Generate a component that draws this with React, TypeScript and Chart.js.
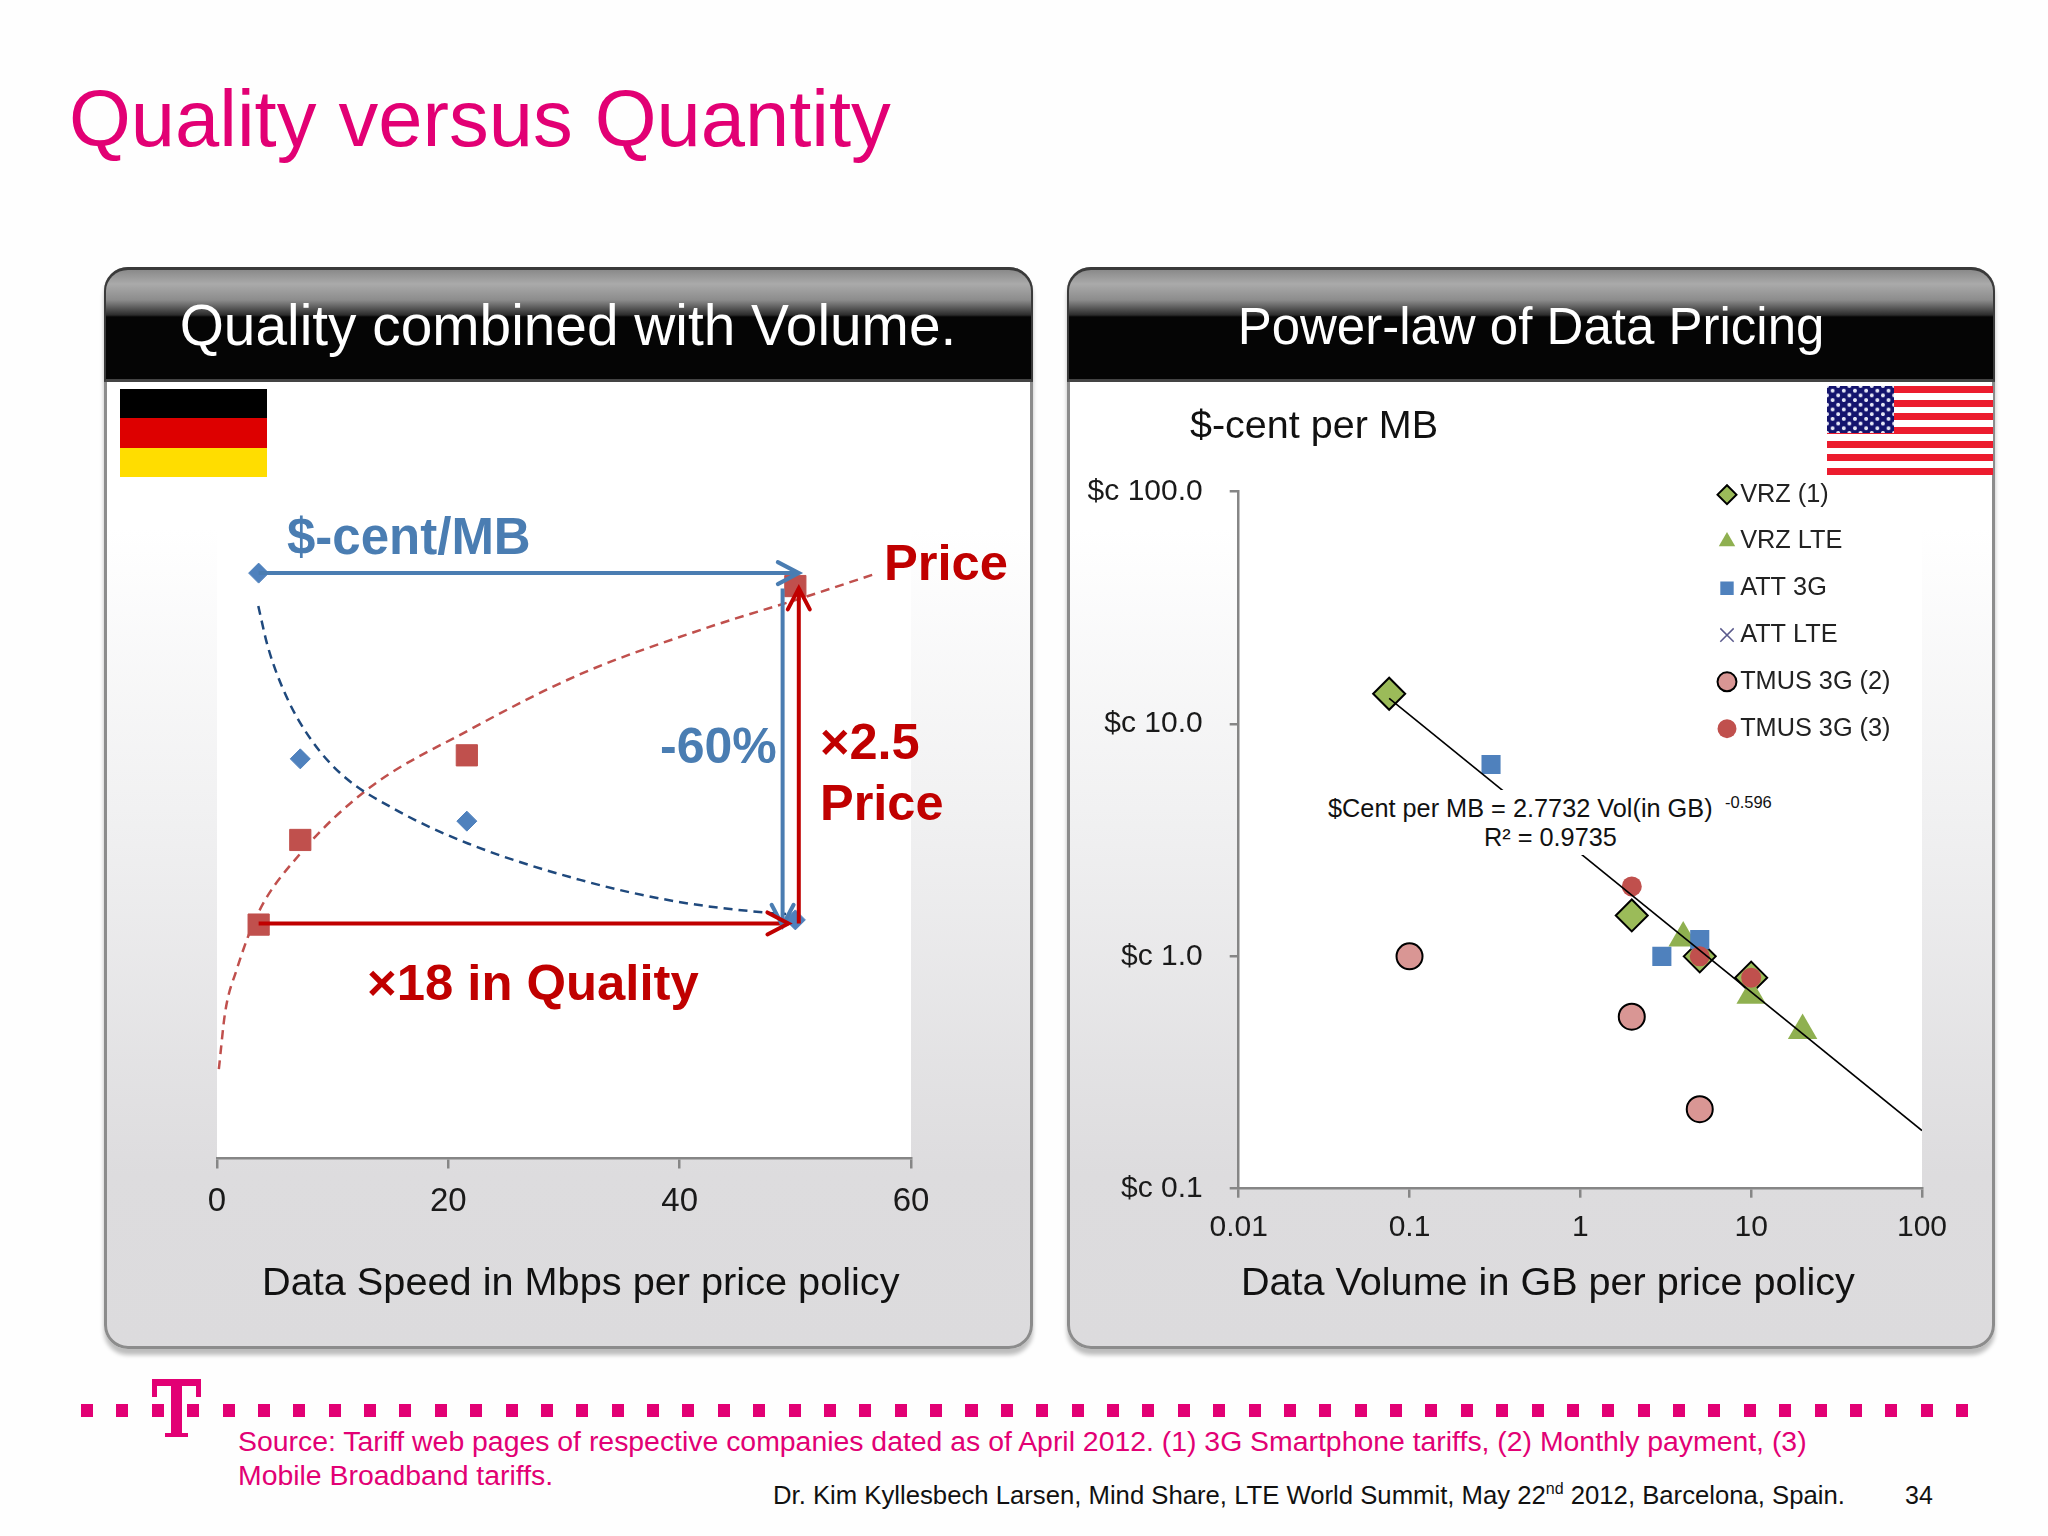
import React, { useEffect, useRef } from "react";
import { Chart, registerables } from "chart.js";

Chart.register(...registerables);

const FONT = '"Liberation Sans", Arial, sans-serif';
const PINK = "#E20074";
const BLUE = "#4A7DB2";
const RED = "#C00000";

// ---- left chart: data speed (Mbps) vs. value
const speedTicks = [0, 20, 40, 60];
const centPerMb = [
  { x: 3.6, y: 4.98 },
  { x: 7.2, y: 3.4 },
  { x: 21.6, y: 2.87 },
  { x: 50, y: 2.03 },
];
const pricePoints = [
  { x: 3.6, y: 1.99 },
  { x: 7.2, y: 2.71 },
  { x: 21.6, y: 3.43 },
  { x: 50, y: 4.87 },
];
const centTrend = [
  { x: 3.57, y: 4.7 },
  { x: 4.38, y: 4.36 },
  { x: 6.0, y: 3.93 },
  { x: 8.16, y: 3.56 },
  { x: 10.86, y: 3.26 },
  { x: 15.2, y: 2.98 },
  { x: 21.7, y: 2.68 },
  { x: 31.4, y: 2.37 },
  { x: 39.5, y: 2.19 },
  { x: 47.6, y: 2.09 },
  { x: 49.2, y: 2.08 },
];
const priceTrend = [
  { x: 0.16, y: 0.76 },
  { x: 0.7, y: 1.24 },
  { x: 1.68, y: 1.6 },
  { x: 3.57, y: 2.09 },
  { x: 7.08, y: 2.58 },
  { x: 13.0, y: 3.14 },
  { x: 21.7, y: 3.64 },
  { x: 31.4, y: 4.12 },
  { x: 42.2, y: 4.51 },
  { x: 50.3, y: 4.76 },
  { x: 56.8, y: 4.97 },
];
const arrowBlueTop = [{ x: 3.6, y: 4.98 }, { x: 50.3, y: 4.98 }];
const arrowBlueDown = [{ x: 48.9, y: 4.85 }, { x: 48.9, y: 1.98 }];
const arrowRedBottom = [{ x: 3.6, y: 2.0 }, { x: 49.4, y: 2.0 }];
const arrowRedUp = [{ x: 50.3, y: 2.0 }, { x: 50.3, y: 4.85 }];

// ---- right chart: data volume (GB) vs. $-cent per MB
const volumeTicks = [0.01, 0.1, 1, 10, 100];
const centTicks = [0.1, 1, 10, 100];
const vrz1 = [
  { x: 0.076, y: 13.5 },
  { x: 2, y: 1.5 },
  { x: 5, y: 1.0 },
  { x: 10, y: 0.81 },
];
const vrzLte = [
  { x: 4, y: 1.2 },
  { x: 10, y: 0.68 },
  { x: 20, y: 0.48 },
];
const att3g = [
  { x: 0.3, y: 6.7 },
  { x: 3, y: 1.0 },
  { x: 5, y: 1.18 },
];
const attLte: { x: number; y: number }[] = [];
const tmus2 = [
  { x: 0.1, y: 1.0 },
  { x: 2, y: 0.55 },
  { x: 5, y: 0.22 },
];
const tmus3 = [
  { x: 2, y: 2.0 },
  { x: 5, y: 1.0 },
  { x: 10, y: 0.81 },
];
const fitLine = [
  { x: 0.076, y: 12.9 },
  { x: 100, y: 0.178 },
];

const plotWhite = {
  id: "plotWhite",
  beforeDraw(chart: any) {
    const a = chart.chartArea;
    chart.ctx.save();
    chart.ctx.fillStyle = "#ffffff";
    chart.ctx.fillRect(a.left, a.top, a.right - a.left, a.bottom - a.top);
    chart.ctx.restore();
  },
};

const arrowHeads = {
  id: "arrowHeads",
  afterDatasetsDraw(chart: any) {
    const ctx = chart.ctx;
    chart.data.datasets.forEach((ds: any, i: number) => {
      if (!ds.isArrow) return;
      const pts = chart.getDatasetMeta(i).data;
      const a = pts[pts.length - 2];
      const b = pts[pts.length - 1];
      const ang = Math.atan2(b.y - a.y, b.x - a.x);
      ctx.save();
      ctx.strokeStyle = ds.borderColor;
      ctx.lineWidth = ds.borderWidth;
      ctx.lineCap = "round";
      ctx.translate(b.x, b.y);
      ctx.rotate(ang);
      ctx.beginPath();
      ctx.moveTo(-21, -11);
      ctx.lineTo(0, 0);
      ctx.lineTo(-21, 11);
      ctx.stroke();
      ctx.restore();
    });
  },
};

const placeLegend = {
  id: "placeLegend",
  afterLayout(chart: any) {
    const l = chart.legend;
    if (!l) return;
    const w = l.width;
    const h = l.height;
    l.left = 1705 - 1067;
    l.top = 460.5 - 380;
    l.right = l.left + w;
    l.bottom = l.top + h;
  },
};

function arrow(data: any[], color: string) {
  return {
    label: "arrow",
    data,
    isArrow: true,
    showLine: true,
    borderColor: color,
    backgroundColor: color,
    borderWidth: 4,
    pointRadius: 0,
    order: 0,
  };
}

function trend(data: any[], color: string) {
  return {
    label: "trend",
    data,
    showLine: true,
    borderColor: color,
    backgroundColor: color,
    borderWidth: 2.5,
    borderDash: [9, 6],
    cubicInterpolationMode: "monotone",
    pointRadius: 0,
    order: 3,
  };
}

function axisCommon(tickLength: number) {
  return {
    border: { color: "#868686", width: 2.5 },
    grid: { drawOnChartArea: false, color: "#868686", lineWidth: 2.5, tickLength },
  };
}

function LeftChart() {
  const ref = useRef<HTMLCanvasElement>(null);
  useEffect(() => {
    const chart = new Chart(ref.current!, {
      type: "scatter",
      data: {
        datasets: [
          arrow(arrowBlueTop, BLUE),
          arrow(arrowBlueDown, BLUE),
          arrow(arrowRedBottom, RED),
          arrow(arrowRedUp, RED),
          trend(centTrend, "#1F497D"),
          trend(priceTrend, "#C0504D"),
          {
            label: "$-cent/MB",
            data: centPerMb,
            pointStyle: "rectRot",
            pointRadius: 10,
            backgroundColor: "#4F81BD",
            borderColor: "#4F81BD",
            order: 2,
          },
          {
            label: "Price",
            data: pricePoints,
            pointStyle: "rect",
            pointRadius: 15,
            backgroundColor: "#C0504D",
            borderColor: "#C0504D",
            order: 2,
          },
        ] as any,
      },
      options: {
        animation: false,
        responsive: false,
        layout: { padding: { left: 112, top: 132, right: 119, bottom: 0 } },
        plugins: { legend: { display: false }, tooltip: { enabled: false } },
        scales: {
          x: {
            type: "linear",
            min: 0,
            max: 60,
            ...axisCommon(10),
            afterBuildTicks: (s: any) => {
              s.ticks = speedTicks.map((value) => ({ value }));
            },
            afterFit: (s: any) => {
              s.height = 101.5;
            },
            ticks: { color: "#1a1a1a", font: { size: 33, family: FONT }, padding: 14, maxRotation: 0 },
          },
          y: { type: "linear", display: false, min: 0, max: 5.5 },
        },
      } as any,
      plugins: [plotWhite, arrowHeads],
    });
    return () => chart.destroy();
  }, []);
  return (
    <canvas
      ref={ref}
      width={925}
      height={880}
      style={{ position: "absolute", left: 105, top: 380, width: 925, height: 880 }}
    />
  );
}

function RightChart() {
  const ref = useRef<HTMLCanvasElement>(null);
  useEffect(() => {
    const chart = new Chart(ref.current!, {
      type: "scatter",
      data: {
        datasets: [
          {
            label: "VRZ (1)",
            data: vrz1,
            pointStyle: "rectRot",
            pointRadius: 16,
            backgroundColor: "#9BBB59",
            borderColor: "#000000",
            borderWidth: 2,
            order: 5,
          },
          {
            label: "VRZ LTE",
            data: vrzLte,
            pointStyle: "triangle",
            pointRadius: 17,
            backgroundColor: "#8FB050",
            borderColor: "#8FB050",
            borderWidth: 0,
            order: 4,
          },
          {
            label: "ATT 3G",
            data: att3g,
            pointStyle: "rect",
            pointRadius: 13.5,
            backgroundColor: "#4F81BD",
            borderColor: "#4F81BD",
            borderWidth: 0,
            order: 3,
          },
          {
            label: "ATT LTE",
            data: attLte,
            pointStyle: "crossRot",
            pointRadius: 9,
            backgroundColor: "#8064A2",
            borderColor: "#5A5A8C",
            borderWidth: 1.5,
            order: 3,
          },
          {
            label: "TMUS 3G (2)",
            data: tmus2,
            pointStyle: "circle",
            pointRadius: 13,
            backgroundColor: "#D99694",
            borderColor: "#000000",
            borderWidth: 2,
            order: 3,
          },
          {
            label: "TMUS 3G (3)",
            data: tmus3,
            pointStyle: "circle",
            pointRadius: 10,
            backgroundColor: "#C0504D",
            borderColor: "#C0504D",
            borderWidth: 0,
            order: 2,
          },
          {
            label: "fit",
            data: fitLine,
            showLine: true,
            borderColor: "#000000",
            backgroundColor: "#000000",
            borderWidth: 1.6,
            pointRadius: 0,
            order: 1,
          },
        ] as any,
      },
      options: {
        animation: false,
        responsive: false,
        layout: { padding: { left: 0, top: 111.7, right: 70, bottom: 0 } },
        plugins: {
          tooltip: { enabled: false },
          legend: {
            position: "chartArea",
            align: "start",
            labels: {
              usePointStyle: true,
              boxWidth: 1,
              boxHeight: 13.4,
              padding: 21.5,
              color: "#222222",
              font: { size: 25.3, family: FONT },
              filter: (item: any) => item.text !== "fit",
              sort: (a: any, b: any) => a.datasetIndex - b.datasetIndex,
            },
          },
        },
        scales: {
          x: {
            type: "logarithmic",
            min: 0.01,
            max: 100,
            ...axisCommon(9),
            afterBuildTicks: (s: any) => {
              s.ticks = volumeTicks.map((value) => ({ value }));
            },
            afterFit: (s: any) => {
              s.height = 71.3;
            },
            ticks: {
              color: "#1a1a1a",
              font: { size: 30, family: FONT },
              padding: 12,
              maxRotation: 0,
              autoSkip: false,
              callback: (v: any) => String(v),
            },
          },
          y: {
            type: "logarithmic",
            min: 0.1,
            max: 100,
            ...axisCommon(9),
            afterBuildTicks: (s: any) => {
              s.ticks = centTicks.map((value) => ({ value }));
            },
            afterFit: (s: any) => {
              s.width = 171.7;
            },
            ticks: {
              color: "#1a1a1a",
              font: { size: 30, family: FONT },
              padding: 27,
              autoSkip: false,
              callback: (v: any) => "$c " + Number(v).toFixed(1),
            },
          },
        },
      } as any,
      plugins: [plotWhite, placeLegend],
    });
    return () => chart.destroy();
  }, []);
  return (
    <canvas
      ref={ref}
      width={925}
      height={880}
      style={{ position: "absolute", left: 1067, top: 380, width: 925, height: 880 }}
    />
  );
}

function Txt(p: {
  x: number;
  b: number;
  size: number;
  color?: string;
  bold?: boolean;
  center?: boolean;
  children: any;
}) {
  return (
    <div
      style={{
        position: "absolute",
        left: p.x,
        top: p.b - p.size * 0.905,
        fontFamily: FONT,
        fontSize: p.size,
        lineHeight: "normal",
        fontWeight: p.bold ? 700 : 400,
        color: p.color || "#111111",
        whiteSpace: "nowrap",
        transform: p.center ? "translateX(-50%)" : undefined,
      }}
    >
      {p.children}
    </div>
  );
}

function Panel({ left, width }: { left: number; width: number }) {
  return (
    <>
      <div
        style={{
          position: "absolute",
          left,
          top: 267,
          width,
          height: 1082,
          boxSizing: "border-box",
          borderRadius: 24,
          border: "3px solid #8c8c8c",
          boxShadow: "0 6px 4px #bdbdbd",
          background: "linear-gradient(#ffffff 0%, #ffffff 24%, #f1f1f2 50%, #dddcde 84%, #dcdbdd 100%)",
        }}
      />
      <div
        style={{
          position: "absolute",
          left,
          top: 267,
          width,
          height: 115,
          boxSizing: "border-box",
          borderRadius: "24px 24px 0 0",
          borderTop: "3px solid #3a3a3a",
          borderLeft: "2px solid #3a3a3a",
          borderRight: "2px solid #3a3a3a",
          borderBottom: "3px solid #444444",
          background:
            "linear-gradient(#8a8a8a 0px, #aaaaaa 14px, #8c8c8c 30px, #2c2c2c 45px, #050505 47px, #050505 100%)",
        }}
      />
    </>
  );
}

export default function App() {
  useEffect(() => {
    document.body.style.margin = "0";
    document.body.style.background = "#fefefe";
  }, []);
  return (
    <div style={{ position: "absolute", left: 0, top: 0, width: 2048, height: 1536, overflow: "hidden", background: "#fefefe" }}>
      <Txt x={69} b={145} size={79.5} color={PINK}>Quality versus Quantity</Txt>

      <Panel left={104} width={929} />
      <Panel left={1067} width={928} />
      <Txt x={568} b={344} size={56.8} color="#ffffff" center>Quality combined with Volume.</Txt>
      <Txt x={1531} b={343} size={51} color="#ffffff" center>Power-law of Data Pricing</Txt>

      {/* German flag */}
      <div style={{ position: "absolute", left: 120, top: 389, width: 147, height: 88, background: "linear-gradient(#000 0 33%, #dd0000 33% 67%, #ffdd00 67% 100%)" }} />
      {/* US flag */}
      <div style={{ position: "absolute", left: 1827, top: 386, width: 166, height: 89, background: "repeating-linear-gradient(#ec1c2e 0 6.85px, #ffffff 6.85px 13.7px)" }} />
      <div
        style={{
          position: "absolute",
          left: 1827,
          top: 386,
          width: 67,
          height: 47,
          backgroundColor: "#14146e",
          backgroundImage:
            "radial-gradient(circle, #e4e6f5 1.7px, transparent 2.2px), radial-gradient(circle, #e4e6f5 1.7px, transparent 2.2px)",
          backgroundSize: "11.2px 9.4px, 11.2px 9.4px",
          backgroundPosition: "0 0, 5.6px 4.7px",
        }}
      />

      <LeftChart />
      <RightChart />

      <Txt x={287} b={553} size={51} color={BLUE} bold>$-cent/MB</Txt>
      <Txt x={884} b={579} size={50.7} color={RED} bold>Price</Txt>
      <Txt x={660} b={762.5} size={50} color={BLUE} bold>-60%</Txt>
      <Txt x={820} b={757.5} size={50.5} color={RED} bold>×2.5</Txt>
      <Txt x={820} b={818.5} size={50.5} color={RED} bold>Price</Txt>
      <Txt x={367} b={999} size={50.8} color={RED} bold>×18 in Quality</Txt>
      <Txt x={262} b={1295} size={39.7}>Data Speed in Mbps per price policy</Txt>

      <Txt x={1190} b={438} size={39.5}>$-cent per MB</Txt>
      <div style={{ position: "absolute", left: 1322, top: 790, width: 462, height: 65, background: "#ffffff" }} />
      <Txt x={1328} b={817} size={25.3}>$Cent per MB = 2.7732 Vol(in GB)</Txt>
      <Txt x={1725} b={808} size={16.5}>-0.596</Txt>
      <Txt x={1484} b={846} size={25.3}>R² = 0.9735</Txt>
      <Txt x={1241} b={1295} size={39.6}>Data Volume in GB per price policy</Txt>

      {/* footer rule and logo */}
      <div style={{ position: "absolute", left: 81, top: 1404, width: 1892, height: 13, background: `repeating-linear-gradient(90deg, ${PINK} 0 12px, transparent 12px 35.38px)` }} />
      <div style={{ position: "absolute", left: 152, top: 1379, width: 49, height: 7, background: PINK }} />
      <div style={{ position: "absolute", left: 152, top: 1379, width: 5, height: 18, background: PINK }} />
      <div style={{ position: "absolute", left: 196, top: 1379, width: 5, height: 18, background: PINK }} />
      <div style={{ position: "absolute", left: 171, top: 1379, width: 11, height: 56, background: PINK }} />
      <div style={{ position: "absolute", left: 165, top: 1433, width: 23, height: 4, background: PINK }} />

      <Txt x={238} b={1451} size={28.4} color={PINK}>
        Source: Tariff web pages of respective companies dated as of April 2012. (1) 3G Smartphone tariffs, (2) Monthly payment, (3)
      </Txt>
      <Txt x={238} b={1485} size={28.4} color={PINK}>Mobile Broadband tariffs.</Txt>
      <Txt x={773} b={1504} size={25.7}>
        Dr. Kim Kyllesbech Larsen, Mind Share, LTE World Summit, May 22
        <sup style={{ fontSize: 16, lineHeight: 0 }}>nd</sup> 2012, Barcelona, Spain.
      </Txt>
      <Txt x={1905} b={1504} size={25}>34</Txt>
    </div>
  );
}
